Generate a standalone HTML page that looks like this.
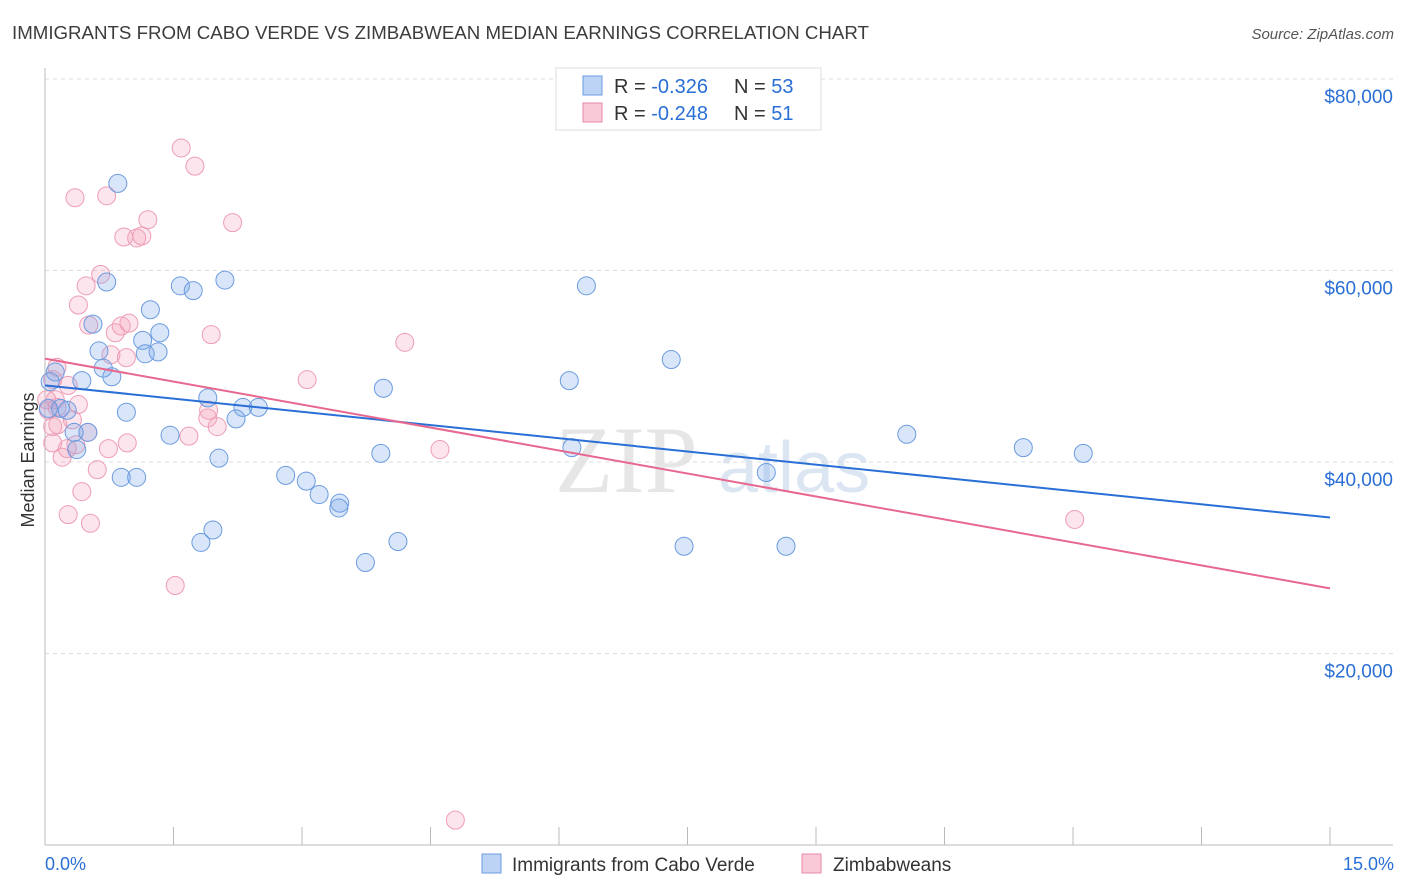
<!DOCTYPE html>
<html><head><meta charset="utf-8">
<style>
body{margin:0;background:#fff;font-family:"Liberation Sans",sans-serif;}
#wrap{position:relative;width:1406px;height:892px;overflow:hidden;}
</style></head><body>
<div id="wrap">
<svg id="svg" width="1406" height="892" xmlns="http://www.w3.org/2000/svg">
<text x="12" y="39" font-size="18.7" fill="#3c3c3c" font-family="Liberation Sans, sans-serif">IMMIGRANTS FROM CABO VERDE VS ZIMBABWEAN MEDIAN EARNINGS CORRELATION CHART</text>
<text x="1394" y="39" font-size="15" fill="#555" text-anchor="end" font-style="italic">Source: ZipAtlas.com</text>
<text x="34" y="460" font-size="18" fill="#333" text-anchor="middle" transform="rotate(-90 34 460)">Median Earnings</text>
<text x="555" y="492" font-size="95" fill="#e6e6e6" font-family="Liberation Serif, serif">ZIP</text>
<text x="718" y="492" font-size="72" fill="#dce6f3">atlas</text>
<g id="grid"></g><g id="axes"></g><g id="pts"></g><g id="lines"></g>
<g>
<rect x="556" y="68" width="265" height="62" fill="#fff" stroke="#ddd"/>
<rect x="583" y="76" width="19" height="19" fill="#bcd3f5" stroke="#6a9be0"/>
<rect x="583" y="103" width="19" height="19" fill="#f9c9d8" stroke="#e88aa8"/>
<text x="614" y="93" font-size="20" fill="#333">R = <tspan fill="#2a6fd6">-0.326</tspan></text>
<text x="734" y="93" font-size="20" fill="#333">N = <tspan fill="#2a6fd6">53</tspan></text>
<text x="614" y="120" font-size="20" fill="#333">R = <tspan fill="#2a6fd6">-0.248</tspan></text>
<text x="734" y="120" font-size="20" fill="#333">N = <tspan fill="#2a6fd6"> 51</tspan></text>
</g>
<g>
<rect x="482" y="854" width="19" height="19" fill="#bcd3f5" stroke="#6a9be0"/>
<text x="512" y="871" font-size="19" fill="#333">Immigrants from Cabo Verde</text>
<rect x="802" y="854" width="19" height="19" fill="#f9c9d8" stroke="#e88aa8"/>
<text x="833" y="871" font-size="19" fill="#333">Zimbabweans</text>
</g>
<text x="45" y="870" font-size="18" fill="#2a6fd6">0.0%</text>
<text x="1394" y="870" font-size="18" fill="#2a6fd6" text-anchor="end">15.0%</text>
</svg>
</div>
<script>
const yTicks=[20000,40000,60000,80000];
const yTickLabels=["$20,000","$40,000","$60,000","$80,000"];
const xTicks=[0,1.5,3,4.5,6,7.5,9,10.5,12,13.5,15];
const blueX=[0.85,0.72,1.58,1.73,2.10,1.23,0.56,1.14,1.34,0.63,1.17,1.32,0.68,0.78,0.43,0.12,0.06,0.18,0.26,0.95,1.90,2.31,2.49,2.23,1.46,0.50,0.34,0.37,2.03,0.89,1.07,2.81,3.05,3.20,3.44,3.43,1.96,1.82,4.12,3.74,3.95,3.92,6.12,6.32,7.31,6.15,7.46,8.42,8.65,10.06,11.42,12.12,0.04];
const blueY=[69100,58800,58400,57900,59000,55900,54400,52700,53500,51600,51300,51500,49800,48900,48500,49400,48400,45600,45400,45200,46700,45700,45700,44500,42800,43100,43100,41300,40400,38400,38400,38600,38000,36600,35700,35200,32900,31600,31700,29500,47700,40900,48500,58400,50700,41500,31200,38900,31200,42900,41500,40900,45600];
const pinkX=[1.59,1.75,0.35,0.72,1.20,2.19,0.92,1.07,1.13,0.65,0.48,0.39,0.51,0.89,0.98,0.82,1.94,0.77,0.95,4.20,0.14,0.09,0.27,3.06,0.39,1.91,1.90,2.01,0.04,0.12,0.15,0.50,0.09,1.68,0.36,0.26,0.96,0.74,0.20,0.61,0.43,0.27,0.53,1.52,4.61,12.02,4.79,0.02,0.09,0.32,0.14];
const pinkY=[72800,70900,67600,67800,65300,65000,63500,63400,63600,59600,58400,56400,54300,54200,54500,53500,53300,51200,50900,52500,49900,48600,48000,48600,46000,45400,44600,43700,45400,46500,43900,43100,43700,42700,41800,41400,42000,41400,40500,39200,36900,34500,33600,27100,41300,34000,2600,46500,42000,44400,45700];
const blueTrend=[48000,34200];
const pinkTrend=[50800,26800];
const NS="http://www.w3.org/2000/svg";
const X0=45,X1=1330,YB=845,PXPER=191.5/20000;
function sx(v){return X0+(X1-X0)*v/15;}
function sy(v){return YB-v*PXPER;}
function mk(tag,attrs,parent){const e=document.createElementNS(NS,tag);for(const k in attrs)e.setAttribute(k,attrs[k]);parent.appendChild(e);return e;}
const grid=document.getElementById('grid'),axes=document.getElementById('axes'),pts=document.getElementById('pts'),lines=document.getElementById('lines');
yTicks.forEach((t,i)=>{
 const l=mk('line',{x1:X0,x2:1393,y1:sy(t),y2:sy(t),stroke:'#ddd','stroke-dasharray':'4 4'},grid);
 
 
 const tx=mk('text',{x:1393,y:sy(t)+24,'font-size':19,fill:'#2a6fd6','text-anchor':'end'},grid);
 tx.textContent=yTickLabels[i];
 
 
});
const ya=mk('line',{x1:X0,x2:X0,y1:68,y2:YB,stroke:'#bbb'},axes);


const xa=mk('line',{x1:X0,x2:1393,y1:YB,y2:YB,stroke:'#bbb'},axes);


xTicks.forEach(t=>{
 const l=mk('line',{x1:sx(t),x2:sx(t),y1:827,y2:YB,stroke:'#bbb'},axes);
 
 
});
function drawPts(xs,ys,fill,stroke,name){
 xs.forEach((x,i)=>{
  const c=mk('circle',{cx:sx(x),cy:sy(ys[i]),r:9,fill:fill,stroke:stroke,'stroke-width':1},pts);
  
  
 });
}
drawPts(pinkX,pinkY,'rgba(244,160,186,0.28)','#ee9db6','zimbabwean-point');
drawPts(blueX,blueY,'rgba(120,165,235,0.28)','#6b9be0','cabo-verde-point');
const bl=mk('line',{x1:sx(0),x2:sx(15),y1:sy(blueTrend[0]),y2:sy(blueTrend[1]),stroke:'#2a6fd6','stroke-width':2},lines);


const pl=mk('line',{x1:sx(0),x2:sx(15),y1:sy(pinkTrend[0]),y2:sy(pinkTrend[1]),stroke:'#e8678f','stroke-width':2},lines);


</script>
</body></html>
